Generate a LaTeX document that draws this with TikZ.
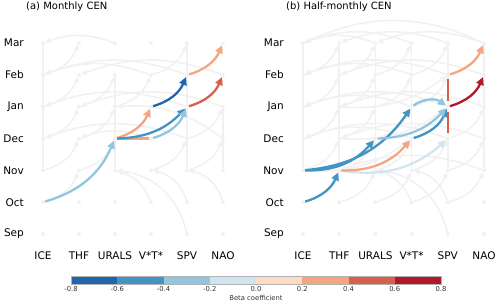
\documentclass[tikz,border=0pt]{standalone}
\usepackage{fontspec}
\setmainfont{DejaVu Sans}
\usetikzlibrary{arrows.meta,calc}
\definecolor{gnet}{RGB}{241,241,241}
\definecolor{cA}{HTML}{2166AC}
\definecolor{cB}{HTML}{4393C3}
\definecolor{cC}{HTML}{92C5DE}
\definecolor{cD}{HTML}{D1E5F0}
\definecolor{cE}{HTML}{FDDBC7}
\definecolor{cF}{HTML}{F4A582}
\definecolor{cG}{HTML}{D6604D}
\definecolor{cH}{HTML}{B2182B}
\tikzset{
  gdot/.style={circle,fill=gnet,inner sep=0pt,minimum size=4pt},
  garr/.style={draw=gnet,line width=1.6pt,-{Triangle[length=5.5pt,width=5.5pt]}},
  gline/.style={draw=gnet,line width=1.6pt},
  carr/.style={line width=2.3pt,-{Triangle[length=8pt,width=7.5pt]}},
  cline/.style={line width=2.3pt},
  lab/.style={font=\fontsize{10.5}{12}\selectfont,inner sep=0pt},
  ttl/.style={font=\fontsize{10}{12}\selectfont,inner sep=0pt},
  tick/.style={font=\fontsize{6.8}{8}\selectfont,inner sep=0pt,text=black!80}
}
\begin{document}
\begin{tikzpicture}[x=1pt,y=1pt]
\useasboundingbox (0,0) rectangle (500,303);
% nodes
\foreach \i in {0,...,5}{\foreach \j in {0,...,6}{
  \node[gdot] (a\i\j) at ({43+36*\i},{69+31.8*\j}) {};
  \node[gdot] (b\i\j) at ({303+36.2*\i},{69+31.8*\j}) {};
}}
% ---------- gray background network, panel a ----------
\draw[gline] (a02) -- (a06);
\draw[gline] (a22) -- (a25);
\draw[gline] (a42) -- (a46);
\draw[gline] (a52) -- (a54);
\foreach \s/\t in {a01/a12,a02/a13,a03/a14,a04/a15,a05/a16,a13/a24,a14/a25,a23/a34,a24/a35,a33/a44,a34/a45,a35/a46,a43/a54,a42/a53,a12/a23,a32/a43}
  \draw[garr] (\s) to[bend right=25] (\t);
\foreach \s/\t in {a26/a06,a45/a05,a35/a05,a44/a04,a43/a03,a54/a14,a55/a15,a33/a13,a53/a24}
  \draw[garr] (\s) to[bend right=20] (\t);
\draw[garr] (a31) to[bend right=25] (a22);
\draw[garr] (a40) to[bend right=35] (a22);
\draw[garr] (a41) to[bend right=30] (a32);
\draw[garr] (a51) to[bend right=30] (a42);
% ---------- gray background network, panel b ----------
\draw[gline] (b02) -- (b06);
\draw[gline] (b12) -- (b16);
\draw[gline] (b22) -- (b26);
\draw[gline] (b32) -- (b36);
\draw[gline] (b42) -- (b46);
\draw[gline] (b52) -- (b56);
\foreach \i/\k in {0/1,1/2,2/3,3/4,4/5}{
  \foreach \j/\m in {1/2,2/3,3/4,4/5,5/6}{
    \draw[garr] (b\i\j) to[bend right=25] (b\k\m);
  }
}
\foreach \s/\t in {b26/b06,b36/b06,b45/b05,b35/b05,b44/b04,b34/b04,b43/b03,b33/b03,b54/b14,b55/b15,b53/b13,b46/b16,b56/b26,b52/b12}
  \draw[garr] (\s) to[bend right=20] (\t);
\draw[garr] (b02) to[bend right=20] (b33);
\draw[garr] (b13) to[bend right=20] (b44);
\draw[garr] (b14) to[bend right=20] (b45);
\draw[garr] (b31) to[bend right=25] (b22);
\draw[garr] (b41) to[bend right=30] (b32);
\draw[garr] (b40) to[bend right=35] (b22);
\draw[gline] (b06) to[bend left=25] (b56);
% ---------- colored links, panel a ----------
\draw[carr,cC] (a01) to[bend right=25] (a23);
\draw[carr,cF] (a23) to[bend right=25] (a34);
\draw[cline,cF] (a23) -- (a33);
\draw[carr,cB] (a23) to[bend right=22] (a44);
\draw[carr,cC] (a33) to[bend right=25] (a44);
\draw[carr,cA] (a34) to[bend right=25] (a45);
\draw[carr,cG] (a44) to[bend right=25] (a55);
\draw[carr,cF] (a45) to[bend right=25] (a56);
% ---------- colored links, panel b ----------
\draw[carr,cB] (b01) to[bend right=25] (b12);
\draw[carr,cB] (b02) to[bend right=25] (b23);
\draw[carr,cB] (b02) to[bend right=25] (b34);
\draw[carr,cD] (b12) to[bend right=25] (b43);
\draw[carr,cF] (b12) to[bend right=25] (b33);
\draw[carr,cB] (b33) to[bend right=25] (b44);
\draw[carr,cC] (b23) to[bend right=22] (b44);
\draw[carr,cC] (b34) to[bend left=35] (b44);
\coordinate (s1) at ($(b44)+(0,28)$);
\coordinate (s2) at ($(b44)+(0,6)$);
\coordinate (s3) at ($(b44)+(0,-5)$);
\coordinate (s4) at ($(b44)+(0,-26)$);
\draw[cline,cG] (s1) -- (s2);
\draw[cline,cG] (s3) -- (s4);
\draw[carr,cH] (b44) to[bend right=25] (b55);
\draw[carr,cF] (b45) to[bend right=25] (b56);
% ---------- labels ----------
\foreach \j/\m in {0/Sep,1/Oct,2/Nov,3/Dec,4/Jan,5/Feb,6/Mar}{
  \node[lab,anchor=east] (ra\j) at (24,{69+31.8*\j}) {\m};
  \node[lab,anchor=east] (rb\j) at (284,{69+31.8*\j}) {\m};
}
\foreach \i/\m in {0/ICE,1/THF,2/URALS,3/V*T*,4/SPV,5/NAO}{
  \node[lab] (ca\i) at ({43+36*\i},47) {\m};
  \node[lab] (cb\i) at ({303+36.2*\i},47) {\m};
}
\node[ttl,anchor=west] (ta) at (26,296) {(a) Monthly CEN};
\node[ttl,anchor=west] (tb) at (286,296) {(b) Half-monthly CEN};
% ---------- colorbar ----------
\foreach \c [count=\n from 0] in {cA,cB,cC,cD,cE,cF,cG,cH}
  \fill[\c] ({71+46.25*\n},19) rectangle ({71+46.25*(\n+1)},27);
\draw[black!30,line width=0.5pt] (71,19) rectangle (441,27);
\foreach \v [count=\n from 0] in {-0.8,-0.6,-0.4,-0.2,0.0,0.2,0.4,0.6,0.8}
  \node[tick] (tk\n) at ({71+46.25*\n},13.5) {\v};
\node[tick] (cbl) at (256,5.5) {Beta coefficient};
\end{tikzpicture}
\end{document}
